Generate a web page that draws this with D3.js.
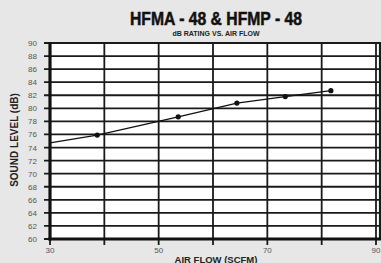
<!DOCTYPE html>
<html>
<head>
<meta charset="utf-8">
<script src="https://cdn.jsdelivr.net/npm/d3@7"></script>
<style>
  body { margin: 0; background: #e6e7e6; }
  svg { display: block; }
</style>
</head>
<body>
<div id="chart"></div>
<script>
// air flow (SCFM) vs sound level (dB)
var airFlow = [38.7, 53.6, 64.4, 73.3, 81.7];
var soundLevel = [75.9, 78.7, 80.8, 81.8, 82.7];
var lineStart = [30, 74.7];
var yTicks = [60, 62, 64, 66, 68, 70, 72, 74, 76, 78, 80, 82, 84, 86, 88, 90];
var xGrid = [30, 40, 50, 60, 70, 80, 90];
var xLabels = [30, 50, 70, 90];

var width = 381,
    height = 263;

var x = d3.scaleLinear().domain([30, 90]).range([50, 376]);
var y = d3.scaleLinear().domain([60, 90]).range([239, 43]);

var svg = d3.select("#chart").append("svg")
    .attr("width", width)
    .attr("height", height);

svg.append("rect")
    .attr("x", x(30)).attr("y", y(90))
    .attr("width", 380 - x(30)).attr("height", y(60) - y(90))
    .attr("fill", "#fff");

// horizontal grid, extends left as tick marks
svg.selectAll(".hg")
    .data(yTicks)
    .enter().append("line")
    .attr("x1", 44).attr("x2", 381)
    .attr("y1", function(d) { return y(d); })
    .attr("y2", function(d) { return y(d); })
    .attr("stroke", "#1a1a1a")
    .attr("stroke-width", function(d) { return d == 90 ? 2.2 : 1.8; });

// vertical grid, extends below as tick marks
svg.selectAll(".vg")
    .data(xGrid)
    .enter().append("line")
    .attr("x1", function(d) { return x(d); })
    .attr("x2", function(d) { return x(d); })
    .attr("y1", y(90)).attr("y2", 245)
    .attr("stroke", "#1a1a1a")
    .attr("stroke-width", 1.8);

// right border
svg.append("line")
    .attr("x1", 380).attr("x2", 380)
    .attr("y1", y(90)).attr("y2", y(60))
    .attr("stroke", "#1a1a1a").attr("stroke-width", 2.2);

// heavy axes
svg.append("line")
    .attr("x1", x(30)).attr("x2", x(30))
    .attr("y1", y(90) - 1).attr("y2", y(60) + 1.5)
    .attr("stroke", "#111").attr("stroke-width", 3.2);
svg.append("line")
    .attr("x1", x(30) - 1.5).attr("x2", 381)
    .attr("y1", y(60)).attr("y2", y(60))
    .attr("stroke", "#111").attr("stroke-width", 3.2);

// tick labels
svg.selectAll(".yl")
    .data(yTicks)
    .enter().append("text")
    .attr("x", 37)
    .attr("y", function(d) { return y(d) + 3; })
    .attr("text-anchor", "end")
    .attr("font-family", "Liberation Sans, Arial, sans-serif")
    .attr("font-size", 8)
    .attr("fill", "#555")
    .text(function(d) { return d; });

svg.selectAll(".xl")
    .data(xLabels)
    .enter().append("text")
    .attr("x", function(d) { return x(d); })
    .attr("y", 253)
    .attr("text-anchor", "middle")
    .attr("font-family", "Liberation Sans, Arial, sans-serif")
    .attr("font-size", 8)
    .attr("fill", "#555")
    .text(function(d) { return d; });

// data line
var pts = [lineStart].concat(airFlow.map(function(d, i) { return [d, soundLevel[i]]; }));
var line = d3.line()
    .x(function(d) { return x(d[0]); })
    .y(function(d) { return y(d[1]); });

svg.append("path")
    .datum(pts)
    .attr("d", line)
    .attr("fill", "none")
    .attr("stroke", "#111")
    .attr("stroke-width", 1.3);

svg.selectAll(".pt")
    .data(airFlow)
    .enter().append("circle")
    .attr("cx", function(d) { return x(d); })
    .attr("cy", function(d, i) { return y(soundLevel[i]); })
    .attr("r", 2.6)
    .attr("fill", "#111");

// titles
svg.append("text")
    .attr("x", 216).attr("y", 25)
    .attr("text-anchor", "middle")
    .attr("font-family", "Liberation Sans, Arial, sans-serif")
    .attr("font-weight", "bold")
    .attr("font-size", 18)
    .attr("textLength", 172)
    .attr("lengthAdjust", "spacingAndGlyphs")
    .attr("fill", "#111")
    .attr("stroke", "#111")
    .attr("stroke-width", 0.5)
    .text("HFMA - 48 & HFMP - 48");

svg.append("text")
    .attr("x", 216).attr("y", 36)
    .attr("text-anchor", "middle")
    .attr("font-family", "Liberation Sans, Arial, sans-serif")
    .attr("font-weight", "bold")
    .attr("font-size", 7)
    .attr("fill", "#222")
    .text("dB RATING VS. AIR FLOW");

svg.append("text")
    .attr("transform", "translate(18," + 140 + ")rotate(-90)")
    .attr("text-anchor", "middle")
    .attr("font-family", "Liberation Sans, Arial, sans-serif")
    .attr("font-weight", "bold")
    .attr("font-size", 10)
    .attr("fill", "#222")
    .text("SOUND LEVEL (dB)");

svg.append("text")
    .attr("x", 216).attr("y", 263)
    .attr("text-anchor", "middle")
    .attr("font-family", "Liberation Sans, Arial, sans-serif")
    .attr("font-weight", "bold")
    .attr("font-size", 9.5)
    .attr("fill", "#222")
    .text("AIR FLOW (SCFM)");
</script>
</body>
</html>
